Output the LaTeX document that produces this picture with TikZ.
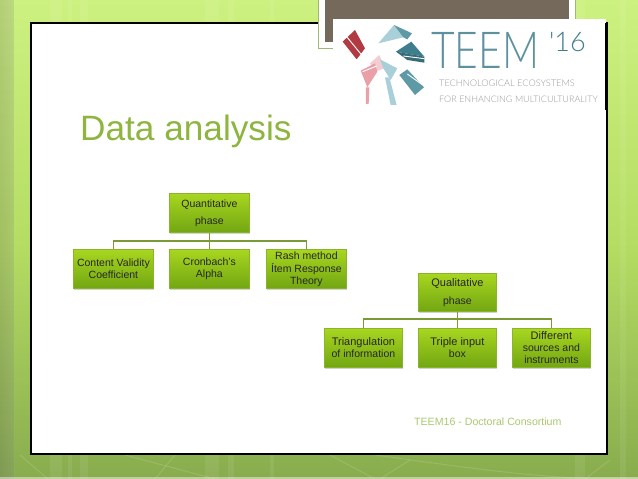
\documentclass[tikz,border=0pt]{standalone}
\usepackage{graphicx}
\usepackage{fontspec}
\setmainfont{Liberation Sans}
\newfontfamily\logofont{Lato Light}
\usetikzlibrary{shadows}
\definecolor{bgtop}{HTML}{CDF180}
\definecolor{bgmid}{HTML}{B4DC62}
\definecolor{bgbot}{HTML}{88AC4E}
\definecolor{boxtop}{HTML}{A8D620}
\definecolor{boxbot}{HTML}{72A612}
\definecolor{boxedge}{HTML}{8AB52A}
\definecolor{linkc}{HTML}{7A9A35}
\definecolor{titlec}{HTML}{8DB53F}
\definecolor{footc}{HTML}{A9C96E}
\definecolor{brownc}{HTML}{75695C}
\definecolor{teald}{HTML}{3F7E8C}
\definecolor{tealm}{HTML}{5E9AA6}
\definecolor{teall}{HTML}{A9D0D9}
\definecolor{redd}{HTML}{B23A42}
\definecolor{redl}{HTML}{E9A0A8}
\definecolor{pinkl}{HTML}{F3CDD2}
\tikzset{
  x=1pt,y=-1pt,
  hbox/.style={draw=boxedge,line width=0.8pt,top color=boxtop,bottom color=boxbot,
    drop shadow={shadow xshift=0.6pt,shadow yshift=-1.2pt,opacity=0.35},
    anchor=north west,inner sep=0pt,align=center,text=black!85,font=\fontsize{10.5}{12}\selectfont},
  link/.style={draw=linkc,line width=1.2pt},
  streak/.style={white,opacity=0.13,line width=1pt},
  strip/.style={fill=white,opacity=0.07,draw=none},
  seam/.style={white,line width=0.9pt},
}
\begin{document}
\begin{tikzpicture}
\useasboundingbox (0,0) rectangle (638,479);
% background
\fill[top color=bgtop,bottom color=bgmid,draw=none] (0,0) rectangle (638,250);
\fill[top color=bgmid,bottom color=bgbot,draw=none] (0,250) rectangle (638,479);
\fill[left color=black!30,right color=white,opacity=0.12,draw=none] (0,0) rectangle (14,479);
\fill[white,opacity=0.45] (0,477) rectangle (638,479);
\foreach \xa/\w in {50/12,68/4,80/8,205/14,228/6,270/4,575/10,620/6}{
  \fill[strip] (\xa,0) rectangle ++(\w,479);
}
\draw[streak] (20,455) -- (48,479);
\draw[streak] (125,455) -- (215,479);
\draw[streak] (175,455) -- (155,479);
\draw[streak] (330,455) -- (375,479);
\draw[streak] (410,460) -- (380,479);
\draw[streak] (375,455) .. controls (470,468) and (560,482) .. (638,478);
\draw[streak] (610,460) -- (585,479);
% slide frame
\draw[fill=white,draw=black,line width=1.2pt] (31,23) rectangle (607,454);
% brown tab
\fill[white,draw=linkc!70,line width=1pt] (318,-2) rectangle (575,48);
\fill[brownc] (325,-2) rectangle (569,42);
% logo panel
\fill[white] (333,19) rectangle (606,110);
\draw[black,line width=1.2pt] (606,23) -- (606,110);
\begin{scope}[shift={(320,0)},x=0.3333pt,y=-0.3333pt]
  \fill[redd] (68,125) -- (105,90) -- (135,145) -- (110,178) -- cycle;
  \draw[seam] (80,110) -- (125,165);
  \fill[teall] (175,130) -- (222,75) -- (250,112) -- cycle;
  \fill[tealm] (222,75) -- (276,100) -- (262,118) -- (250,112) -- cycle;
  \fill[teald] (228,155) -- (274,125) -- (313,170) -- cycle;
  \fill[black!15!teald] (228,155) -- (313,170) -- (313,188) -- (262,180) -- cycle;
  \draw[seam] (250,168) -- (313,176);
  \fill[tealm] (238,225) -- (262,208) -- (312,262) -- (285,285) -- cycle;
  \draw[seam] (262,222) -- (308,255);
  \fill[pinkl] (150,190) -- (178,165) -- (195,205) -- (165,215) -- cycle;
  \fill[redl] (122,212) -- (165,190) -- (172,215) -- (142,262) -- cycle;
  \draw[seam] (128,215) -- (170,198);
  \fill[redl] (138,262) -- (148,262) -- (146,312) -- (138,312) -- cycle;
  \fill[teall] (180,178) -- (232,205) -- (212,240) -- (190,205) -- cycle;
  \fill[teall] (195,232) -- (208,232) -- (230,315) -- (212,315) -- cycle;
\end{scope}
\node[anchor=base west,inner sep=0pt,text=teald!85,font=\logofont\fontsize{51}{51}\selectfont] (logotitle) at (431,68) {\scalebox{0.8}[1]{TEEM}};
\node[anchor=base west,inner sep=0pt,text=teald,font=\logofont\fontsize{27}{27}\selectfont] (logoyear) at (549,52) {'16};
\node[anchor=base west,inner sep=0pt,text=black!40,font=\logofont\fontsize{9.2}{10}\selectfont] (logoa) at (439,86) {TECHNOLOGICAL ECOSYSTEMS};
\node[anchor=base west,inner sep=0pt,text=black!40,font=\logofont\fontsize{9}{10}\selectfont] (logob) at (439,102) {FOR ENHANCING MULTICULTURALITY};
% title
\node[anchor=base west,inner sep=0pt,text=titlec,font=\fontsize{35.2}{36}\selectfont] (title) at (80,140) {Data analysis};
% left tree
\node[hbox,minimum width=80pt,minimum height=39pt] (quant) at (169,193) {Quantitative\\[5pt]phase};
\node[hbox,minimum width=80pt,minimum height=39pt] (q1) at (73,249) {Content Validity\\Coefficient};
\node[hbox,minimum width=80pt,minimum height=39pt] (q2) at (169,249) {Cronbach's\\Alpha};
\node[hbox,minimum width=80pt,minimum height=39pt] (q3) at (266,249) {Rash method\\[1pt]Ítem Response\\Theory};
\coordinate (qbus) at (209,241);
\draw[link] (quant.south) -- (q2.north);
\draw[link] (q1.north) |- (qbus) -| (q3.north);
% right tree
\node[hbox,minimum width=78pt,minimum height=38pt] (qual) at (418,273) {\fontsize{11}{12}\selectfont Qualitative\\[6pt]phase};
\node[hbox,minimum width=78pt,minimum height=39pt] (r1) at (324,328) {\fontsize{11}{12}\selectfont Triangulation\\of information};
\node[hbox,minimum width=78pt,minimum height=39pt] (r2) at (418,328) {\fontsize{11}{12}\selectfont Triple input\\box};
\node[hbox,minimum width=78pt,minimum height=39pt] (r3) at (512,328) {\fontsize{11}{12}\selectfont Different\\sources and\\instruments};
\coordinate (rbus) at (457,319);
\draw[link] (qual.south) -- (r2.north);
\draw[link] (r1.north) |- (rbus) -| (r3.north);
% footer
\node[anchor=base west,inner sep=0pt,text=footc,font=\fontsize{10.6}{12}\selectfont] (foot) at (414,425) {TEEM16 - Doctoral Consortium};
\end{tikzpicture}
\end{document}
